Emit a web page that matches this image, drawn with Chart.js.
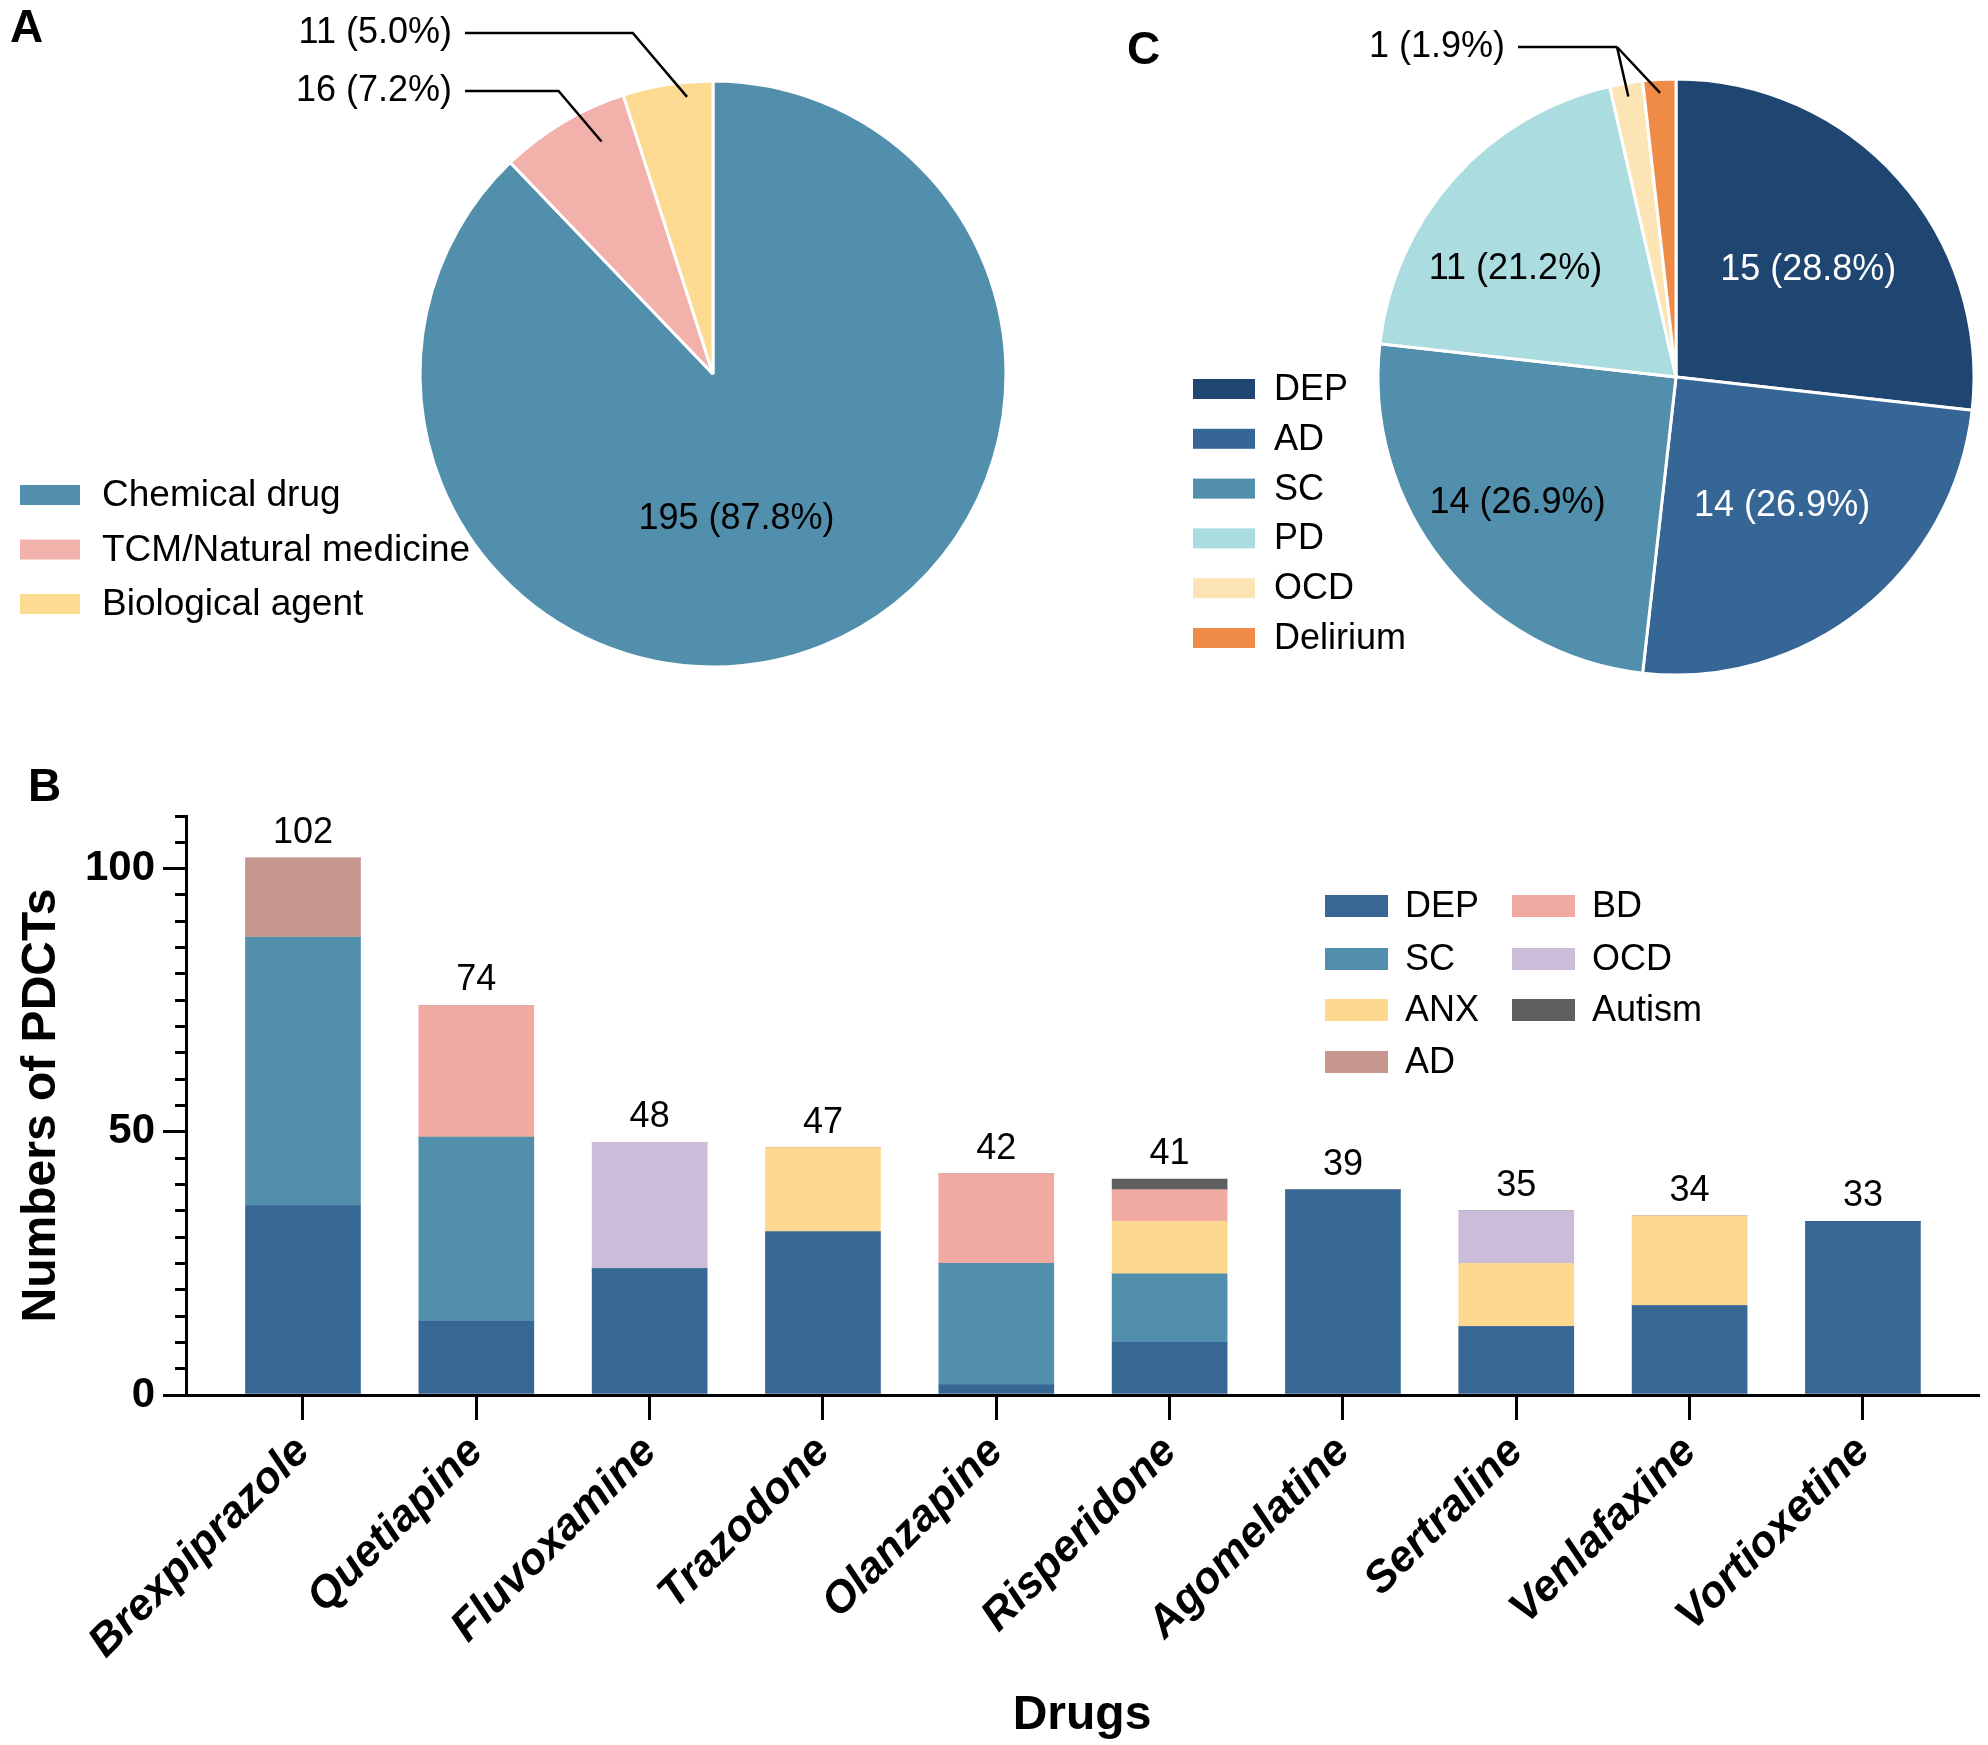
<!DOCTYPE html>
<html><head><meta charset="utf-8">
<script src="https://cdn.jsdelivr.net/npm/chart.js@4.4.1/dist/chart.umd.min.js"></script>
<style>
html,body{margin:0;padding:0;background:#fff;width:1988px;height:1745px;overflow:hidden;}
.box{position:absolute;}
</style></head><body>
<div class="box" style="left:0;top:0;width:1040px;height:720px"><canvas id="cA"></canvas></div>
<div class="box" style="left:1040px;top:0;width:948px;height:720px"><canvas id="cC"></canvas></div>
<div class="box" style="left:0;top:740px;width:1988px;height:1005px"><canvas id="cB"></canvas></div>
<script>
// ---------- DATA ----------
const typeLabels = ['Chemical drug', 'TCM/Natural medicine', 'Biological agent'];
const typeCounts = [195, 16, 11];

const indLabels = ['DEP', 'AD', 'SC', 'PD', 'OCD', 'Delirium'];
const indCounts = [15, 14, 14, 11, 1, 1];
const indPercents = [28.8, 26.9, 26.9, 21.2, 1.9, 1.9];

const drugs = ['Brexpiprazole','Quetiapine','Fluvoxamine','Trazodone','Olanzapine','Risperidone','Agomelatine','Sertraline','Venlafaxine','Vortioxetine'];
const seriesB = ['DEP','SC','ANX','AD','BD','OCD','Autism'];
const depB    = [36,14,24,31, 2,10,39,13,17,33];
const scB     = [51,35, 0, 0,23,13, 0, 0, 0, 0];
const anxB    = [ 0, 0, 0,16, 0,10, 0,12,17, 0];
const adB     = [15, 0, 0, 0, 0, 0, 0, 0, 0, 0];
const bdB     = [ 0,25, 0, 0,17, 6, 0, 0, 0, 0];
const ocdB    = [ 0, 0,24, 0, 0, 0, 0,10, 0, 0];
const autismB = [ 0, 0, 0, 0, 0, 2, 0, 0, 0, 0];
const yTickLabels = [0, 50, 100];

// ---------- STYLE ----------
const FONT = '"Liberation Sans", Arial, sans-serif';
Chart.defaults.font.family = FONT;
Chart.defaults.color = '#000';
const colorsA = ['#528fad', '#f2b1aa', '#fdda91'];
const colorsC = ['#1f4670', '#366695', '#528fad', '#aadce0', '#fde4b5', '#ef8b47'];
const colorsB = ['#376795', '#528fad', '#fdd98f', '#c5978f', '#f1aaa2', '#cbbcda', '#5f5f5f'];
const seriesBData = [depB, scB, anxB, adB, bdB, ocdB, autismB];

function pt(arc, angleFrac, rFrac) {
  const p = arc.getProps(['x','y','startAngle','endAngle','outerRadius'], true);
  const a = p.startAngle + (p.endAngle - p.startAngle) * angleFrac;
  return {x: p.x + Math.cos(a) * p.outerRadius * rFrac, y: p.y + Math.sin(a) * p.outerRadius * rFrac};
}
function pctLabel(v, total) { return v + ' (' + (v / total * 100).toFixed(1) + '%)'; }

// ---------- PANEL A ----------
const pieAPlugin = {
  id: 'pieA',
  afterDraw(chart) {
    const ctx = chart.ctx, meta = chart.getDatasetMeta(0);
    const total = typeCounts.reduce((a, b) => a + b, 0);
    ctx.save();
    ctx.fillStyle = '#000';
    ctx.font = 'bold 46px ' + FONT; ctx.textAlign = 'left'; ctx.textBaseline = 'alphabetic';
    ctx.fillText('A', 10, 42);
    // legend
    ctx.font = '37px ' + FONT; ctx.textBaseline = 'middle';
    typeLabels.forEach((l, i) => {
      const y = 495 + i * 54.5;
      ctx.fillStyle = colorsA[i]; ctx.fillRect(20, y - 10, 60, 20);
      ctx.fillStyle = '#000'; ctx.fillText(l, 102, y + 1);
    });
    // main slice label
    ctx.font = '36px ' + FONT;
    const p0 = pt(meta.data[0], 0.54, 0.5);
    ctx.textAlign = 'center';
    ctx.fillText(pctLabel(typeCounts[0], total), p0.x, p0.y);
    // callouts
    const textY = [null, 91, 33], rF = [null, 0.88, 0.95];
    ctx.strokeStyle = '#000'; ctx.lineWidth = 2.5;
    for (let i = 1; i < 3; i++) {
      const e = pt(meta.data[i], 0.7, rF[i]);
      const elbowX = e.x - (e.y - textY[i]) * 0.85;
      ctx.beginPath(); ctx.moveTo(465, textY[i]); ctx.lineTo(elbowX, textY[i]); ctx.lineTo(e.x, e.y); ctx.stroke();
      ctx.textAlign = 'right';
      ctx.fillText(pctLabel(typeCounts[i], total), 452, textY[i]);
    }
    ctx.restore();
  }
};
new Chart(document.getElementById('cA'), {
  type: 'pie',
  data: { labels: typeLabels, datasets: [{ data: typeCounts, backgroundColor: colorsA, borderColor: '#fff', borderWidth: 3, hoverOffset: 0 }] },
  options: {
    responsive: true, maintainAspectRatio: false, devicePixelRatio: 1, animation: false,
    radius: 293,
    layout: { padding: { left: 420, right: 34, top: 81, bottom: 53 } },
    plugins: { legend: { display: false }, tooltip: { enabled: false } }
  },
  plugins: [pieAPlugin]
});

// ---------- PANEL C ----------
const labelPosC = [[0.53, 0.57], [0.49, 0.56], [0.5, 0.68], [0.39, 0.65]];
const labelColC = ['#fff', '#fff', '#000', '#000'];
const pieCPlugin = {
  id: 'pieC',
  afterDraw(chart) {
    const ctx = chart.ctx, meta = chart.getDatasetMeta(0);
    ctx.save();
    ctx.fillStyle = '#000';
    ctx.font = 'bold 46px ' + FONT; ctx.textAlign = 'left'; ctx.textBaseline = 'alphabetic';
    ctx.fillText('C', 87, 64);
    // legend
    ctx.font = '36px ' + FONT; ctx.textBaseline = 'middle';
    indLabels.forEach((l, i) => {
      const y = 389 + i * 49.8;
      ctx.fillStyle = colorsC[i]; ctx.fillRect(153, y - 10, 62, 20);
      ctx.fillStyle = '#000'; ctx.fillText(l, 234, y + 1);
    });
    // slice labels
    ctx.textAlign = 'center';
    for (let i = 0; i < 4; i++) {
      const p = pt(meta.data[i], labelPosC[i][0], labelPosC[i][1]);
      ctx.fillStyle = labelColC[i];
      ctx.fillText(indCounts[i] + ' (' + indPercents[i].toFixed(1) + '%)', p.x, p.y);
    }
    // callout for the two small slices
    ctx.fillStyle = '#000'; ctx.strokeStyle = '#000'; ctx.lineWidth = 2.5;
    const ty = 47, elbowX = 577;
    ctx.beginPath(); ctx.moveTo(478, ty); ctx.lineTo(elbowX, ty); ctx.stroke();
    [4, 5].forEach(i => {
      const e = pt(meta.data[i], 0.5, 0.955);
      ctx.beginPath(); ctx.moveTo(elbowX, ty); ctx.lineTo(e.x, e.y); ctx.stroke();
    });
    ctx.textAlign = 'right';
    ctx.fillText(indCounts[4] + ' (' + indPercents[4].toFixed(1) + '%)', 465, ty);
    ctx.restore();
  }
};
new Chart(document.getElementById('cC'), {
  type: 'pie',
  data: { labels: indLabels, datasets: [{ data: indCounts, backgroundColor: colorsC, borderColor: '#fff', borderWidth: 3, hoverOffset: 0 }] },
  options: {
    responsive: true, maintainAspectRatio: false, devicePixelRatio: 1, animation: false,
    radius: 298,
    layout: { padding: { left: 338, right: 14, top: 79, bottom: 45 } },
    plugins: { legend: { display: false }, tooltip: { enabled: false } }
  },
  plugins: [pieCPlugin]
});

// ---------- PANEL B ----------
const barBPlugin = {
  id: 'barB',
  afterDraw(chart) {
    const ctx = chart.ctx, xs = chart.scales.x, ys = chart.scales.y;
    ctx.save();
    ctx.fillStyle = '#000';
    ctx.font = 'bold 46px ' + FONT; ctx.textAlign = 'left'; ctx.textBaseline = 'alphabetic';
    ctx.fillText('B', 28, 61);
    // totals
    ctx.font = '36px ' + FONT; ctx.textAlign = 'center'; ctx.textBaseline = 'middle';
    drugs.forEach((d, i) => {
      const tot = seriesBData.reduce((s, arr) => s + arr[i], 0);
      ctx.fillText(String(tot), xs.getPixelForValue(i), ys.getPixelForValue(tot) - 25);
    });
    // legend (two columns)
    ctx.textAlign = 'left';
    const colX = [1325, 1512], rowY = [166, 219, 270, 322];
    seriesB.forEach((s, i) => {
      const c = i < 4 ? 0 : 1, r = i < 4 ? i : i - 4;
      const x = colX[c], y = rowY[r];
      ctx.fillStyle = colorsB[i]; ctx.fillRect(x, y - 11, 63, 22);
      ctx.fillStyle = '#000'; ctx.fillText(s, x + 80, y + 1);
    });
    ctx.restore();
  }
};
new Chart(document.getElementById('cB'), {
  type: 'bar',
  data: {
    datasets: seriesB.map((s, k) => ({
      label: s,
      data: seriesBData[k].map((v, i) => ({ x: i, y: v })),
      backgroundColor: colorsB[k],
      borderWidth: 0,
      barThickness: 115
    }))
  },
  options: {
    responsive: true, maintainAspectRatio: false, devicePixelRatio: 1, animation: false,
    layout: { padding: { left: 0, right: 10, top: 76, bottom: 0 } },
    plugins: { legend: { display: false }, tooltip: { enabled: false } },
    scales: {
      x: {
        type: 'linear', stacked: true, min: -0.675, max: 9.664, offset: false,
        afterBuildTicks: s => { s.ticks = drugs.map((d, i) => ({ value: i })); },
        afterFit: s => { s.height = 350; },
        ticks: {
          autoSkip: false, maxRotation: 45, minRotation: 45, padding: 6,
          font: { size: 44, weight: 'bold', style: 'italic' }, color: '#000',
          callback: v => drugs[v]
        },
        grid: { offset: false, drawOnChartArea: false, drawTicks: true, tickLength: 25, color: '#000', lineWidth: 3 },
        border: { display: true, color: '#000', width: 3 },
        title: { display: true, text: 'Drugs', font: { size: 48, weight: 'bold' }, color: '#000', padding: { top: 7, bottom: 0 } }
      },
      y: {
        type: 'linear', stacked: true, min: 0, max: 110, weight: 1,
        afterBuildTicks: s => { s.ticks = yTickLabels.map(v => ({ value: v })); },
        afterFit: s => { s.width = 186; },
        ticks: { font: { size: 42, weight: 'bold' }, color: '#000', padding: 8 },
        grid: { drawOnChartArea: false, drawTicks: true, tickLength: 23, color: '#000', lineWidth: 3 },
        border: { display: true, color: '#000', width: 3 },
        title: { display: true, text: 'Numbers of PDCTs', font: { size: 48, weight: 'bold' }, color: '#000', padding: { top: 13, bottom: 0 } }
      },
      y2: {
        type: 'linear', position: 'left', min: 0, max: 110, weight: 0,
        afterFit: s => { s.width = 0; },
        ticks: { stepSize: 5, display: false },
        grid: { drawOnChartArea: false, drawTicks: true, tickLength: 11, color: '#000', lineWidth: 3 },
        border: { display: false }
      }
    }
  },
  plugins: [barBPlugin]
});
</script>
</body></html>
